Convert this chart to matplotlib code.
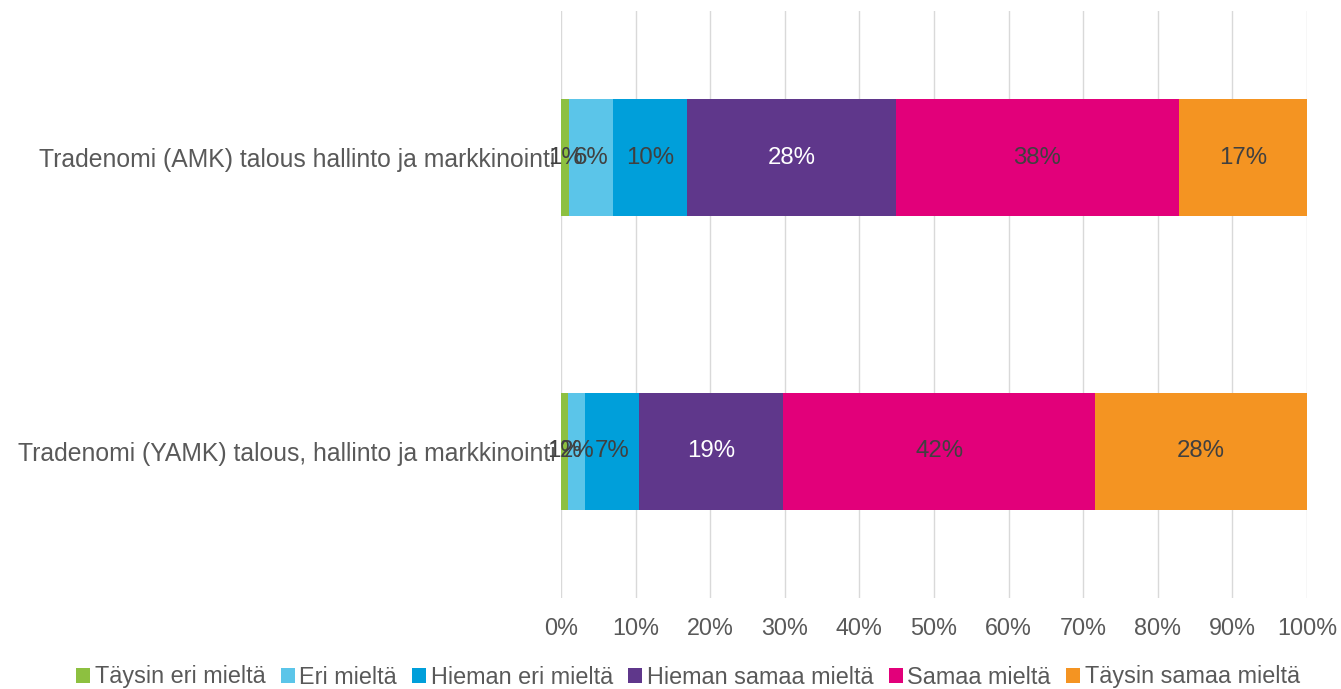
import matplotlib
matplotlib.use("Agg")
import matplotlib.pyplot as plt
from matplotlib.ticker import PercentFormatter

plt.rcParams['font.family'] = ['Liberation Sans', 'DejaVu Sans']

categories = ["Tradenomi (YAMK) talous, hallinto ja markkinointi",
              "Tradenomi (AMK) talous hallinto ja markkinointi"]
series = ["Täysin eri mieltä", "Eri mieltä", "Hieman eri mieltä",
          "Hieman samaa mieltä", "Samaa mieltä", "Täysin samaa mieltä"]
# values per series: [YAMK, AMK]
values = [
    [1.0, 1.1],
    [2.2, 5.9],
    [7.3, 9.9],
    [19.3, 28.0],
    [41.8, 37.9],
    [28.4, 17.2],
]
labels = [
    ["1%", "1%"],
    ["2%", "6%"],
    ["7%", "10%"],
    ["19%", "28%"],
    ["42%", "38%"],
    ["28%", "17%"],
]
colors = ["#8DC040", "#5BC5E9", "#009FDA", "#5F378B", "#E2007A", "#F49422"]
text_colors = ["#404040", "#404040", "#404040", "white", "#404040", "#404040"]

fig = plt.figure(figsize=(13.41, 6.89), dpi=100)
ax = fig.add_axes([561/1341, 1-598/689, (1307-561)/1341, 587/689])

y = list(range(len(categories)))
left = [0.0] * len(categories)
for s, vals, labs, c, tc in zip(series, values, labels, colors, text_colors):
    ax.barh(y, vals, left=left, height=0.4, color=c, label=s, zorder=3)
    for yi, v, l, lab in zip(y, vals, left, labs):
        ax.text(l + v / 2, yi, lab, ha='center', va='center', fontsize=17.3,
                color=tc, zorder=4)
    left = [a + b for a, b in zip(left, vals)]

ax.set_xlim(0, 100)
ax.set_ylim(-0.5, 1.5)
ax.set_xticks(range(0, 101, 10))
ax.xaxis.set_major_formatter(PercentFormatter(decimals=0))
ax.set_yticks(y)
ax.set_yticklabels(categories)
ax.tick_params(axis='both', length=0, labelcolor='#595959')
ax.tick_params(axis='x', pad=14, labelsize=16.8)
ax.tick_params(axis='y', pad=4, labelsize=17.8)
ax.grid(axis='x', color='#D9D9D9', linewidth=1, zorder=0)
for sp in ax.spines.values():
    sp.set_visible(False)

handles, labs = ax.get_legend_handles_labels()
fig.legend(handles, labs, loc='center', bbox_to_anchor=(688/1341, 1-677/689),
           ncol=6, frameon=False, fontsize=16.8, labelcolor='#595959',
           handlelength=0.6, handleheight=0.6, handletextpad=0.2,
           columnspacing=0.65, borderaxespad=0)

fig.savefig("out.png", dpi=100)
